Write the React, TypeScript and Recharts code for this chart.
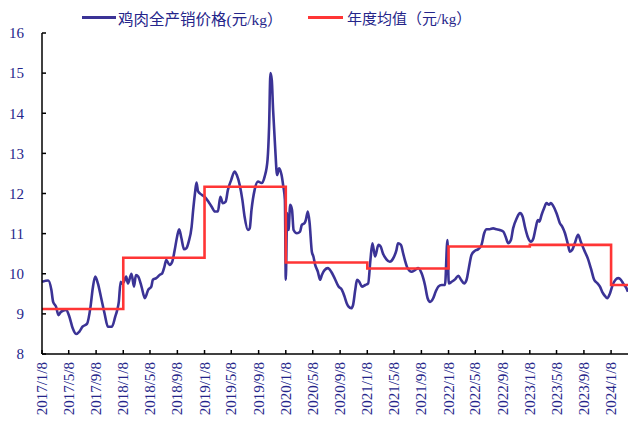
import React from "react";
import { LineChart, Line, XAxis, YAxis } from "recharts";

// weekly-ish readings of the price line
const dates = [
  "2017/1/8", "2017/2/5", "2017/2/19", "2017/2/27", "2017/3/12", "2017/3/23", "2017/4/3", "2017/4/26",
  "2017/5/11", "2017/5/26", "2017/6/10", "2017/6/25", "2017/7/9", "2017/7/29", "2017/8/14", "2017/8/24",
  "2017/9/4", "2017/9/16", "2017/10/1", "2017/10/16", "2017/10/31", "2017/11/18", "2017/12/3", "2017/12/12",
  "2017/12/19", "2017/12/27", "2018/1/2", "2018/1/11", "2018/1/21", "2018/1/29", "2018/2/14", "2018/2/25",
  "2018/3/6", "2018/3/16", "2018/3/31", "2018/4/15", "2018/4/30", "2018/5/14", "2018/5/21", "2018/6/5",
  "2018/6/20", "2018/7/2", "2018/7/12", "2018/7/20", "2018/8/4", "2018/8/16", "2018/8/27", "2018/9/7",
  "2018/9/16", "2018/9/26", "2018/10/8", "2018/10/19", "2018/10/29", "2018/11/11", "2018/11/18", "2018/11/26",
  "2018/12/3", "2018/12/10", "2018/12/26", "2019/1/10", "2019/1/25", "2019/2/9", "2019/2/24", "2019/3/9",
  "2019/3/20", "2019/3/31", "2019/4/13", "2019/4/23", "2019/5/8", "2019/5/23", "2019/6/2", "2019/6/15",
  "2019/6/27", "2019/7/7", "2019/7/22", "2019/7/30", "2019/8/7", "2019/8/21", "2019/9/5", "2019/9/21",
  "2019/10/5", "2019/10/18", "2019/10/25", "2019/10/31", "2019/11/6", "2019/11/12", "2019/11/21", "2019/11/30",
  "2019/12/9", "2019/12/20", "2019/12/27", "2020/1/4", "2020/1/8", "2020/1/14", "2020/1/20", "2020/1/28",
  "2020/2/5", "2020/2/12", "2020/2/27", "2020/3/12", "2020/3/20", "2020/4/1", "2020/4/7", "2020/4/16",
  "2020/4/24", "2020/5/4", "2020/5/11", "2020/5/19", "2020/5/31", "2020/6/10", "2020/6/18", "2020/6/30",
  "2020/7/15", "2020/7/30", "2020/8/14", "2020/9/1", "2020/9/16", "2020/9/28", "2020/10/8", "2020/10/16",
  "2020/10/28", "2020/11/5", "2020/11/15", "2020/11/23", "2020/12/3", "2020/12/15", "2020/12/30", "2021/1/12",
  "2021/1/22", "2021/1/31", "2021/2/12", "2021/2/27", "2021/3/9", "2021/3/19", "2021/4/4", "2021/4/19",
  "2021/5/4", "2021/5/19", "2021/5/26", "2021/6/8", "2021/6/18", "2021/6/26", "2021/7/8", "2021/7/26",
  "2021/8/10", "2021/8/25", "2021/9/9", "2021/9/24", "2021/10/6", "2021/10/17", "2021/10/31", "2021/11/11",
  "2021/11/23", "2021/12/8", "2021/12/23", "2022/1/3", "2022/1/9", "2022/1/22", "2022/2/6", "2022/2/21",
  "2022/3/5", "2022/3/19", "2022/3/30", "2022/4/9", "2022/4/21", "2022/5/6", "2022/5/21", "2022/6/5",
  "2022/6/17", "2022/6/28", "2022/7/12", "2022/7/27", "2022/8/12", "2022/8/26", "2022/9/11", "2022/9/21",
  "2022/10/3", "2022/10/15", "2022/10/25", "2022/11/10", "2022/11/25", "2022/12/7", "2022/12/17", "2022/12/29",
  "2023/1/13", "2023/1/24", "2023/2/3", "2023/2/13", "2023/2/20", "2023/3/2", "2023/3/13", "2023/3/24",
  "2023/4/4", "2023/4/13", "2023/4/23", "2023/5/8", "2023/5/23", "2023/6/3", "2023/6/15", "2023/6/27",
  "2023/7/7", "2023/7/17", "2023/7/29", "2023/8/13", "2023/8/25", "2023/9/9", "2023/9/25", "2023/10/9",
  "2023/10/24", "2023/11/8", "2023/11/19", "2023/11/29", "2023/12/11", "2023/12/22", "2024/1/3", "2024/1/15",
  "2024/1/28", "2024/2/9", "2024/2/21", "2024/3/2", "2024/3/17", "2024/3/24",
];

const prices = [
  9.8, 9.83, 9.6, 9.3, 9.18, 8.97, 9.05, 9.1,
  8.93, 8.64, 8.5, 8.56, 8.68, 8.75, 9.18, 9.64,
  9.93, 9.76, 9.39, 9.01, 8.68, 8.68, 8.93, 9.1,
  9.3, 9.8, 9.75, 9.8, 9.93, 9.76, 10.0, 9.68,
  9.97, 9.93, 9.68, 9.39, 9.6, 9.68, 9.85, 9.89,
  9.97, 10.01, 10.18, 10.34, 10.22, 10.3, 10.59, 10.93,
  11.11, 10.89, 10.61, 10.64, 10.8, 11.17, 11.59, 12.0,
  12.27, 12.05, 11.97, 11.91, 11.8, 11.67, 11.55, 11.55,
  11.92, 11.76, 11.8, 12.09, 12.34, 12.55, 12.46, 12.21,
  11.84, 11.42, 11.09, 11.13, 11.59, 12.09, 12.3, 12.26,
  12.42, 12.84, 13.67, 15.0, 14.83, 14.08, 13.17, 12.46,
  12.63, 12.46, 12.21, 11.84, 9.85, 11.51, 11.09, 11.72,
  11.59, 11.09, 11.01, 11.05, 11.22, 11.26, 11.34, 11.55,
  11.26, 10.55, 10.43, 10.22, 10.05, 9.85, 9.97, 10.09,
  10.14, 10.05, 9.89, 9.68, 9.6, 9.43, 9.26, 9.18,
  9.14, 9.22, 9.6, 9.85, 9.8, 9.68, 9.72, 9.76,
  10.34, 10.76, 10.43, 10.72, 10.68, 10.51, 10.36, 10.3,
  10.38, 10.59, 10.76, 10.72, 10.51, 10.34, 10.14, 10.05,
  10.09, 10.14, 10.01, 9.72, 9.39, 9.3, 9.39, 9.55,
  9.68, 9.72, 9.72, 10.84, 9.76, 9.8, 9.86, 9.95,
  9.85, 9.76, 9.85, 10.14, 10.47, 10.57, 10.61, 10.72,
  11.01, 11.11, 11.11, 11.13, 11.11, 11.09, 11.05, 10.93,
  10.76, 10.84, 11.13, 11.38, 11.51, 11.42, 11.17, 10.93,
  10.8, 10.88, 11.13, 11.34, 11.3, 11.47, 11.63, 11.76,
  11.72, 11.76, 11.69, 11.51, 11.26, 11.17, 11.01, 10.76,
  10.55, 10.59, 10.76, 10.97, 10.8, 10.59, 10.39, 10.14,
  9.85, 9.76, 9.68, 9.55, 9.45, 9.39, 9.51, 9.72,
  9.85, 9.89, 9.85, 9.76, 9.64, 9.55,
];

// yearly averages, each holds from its start date to the next
const avgStarts = ["2017/1/8", "2018/1/8", "2019/1/8", "2020/1/8", "2021/1/8", "2022/1/8", "2023/1/8", "2024/1/8", "2024/3/24"];
const avgValues = [9.12, 10.4, 12.17, 10.28, 10.13, 10.68, 10.72, 9.72, 9.72];

const tickLabels = [
  "2017/1/8", "2017/5/8", "2017/9/8", "2018/1/8", "2018/5/8", "2018/9/8", "2019/1/8", "2019/5/8",
  "2019/9/8", "2020/1/8", "2020/5/8", "2020/9/8", "2021/1/8", "2021/5/8", "2021/9/8", "2022/1/8",
  "2022/5/8", "2022/9/8", "2023/1/8", "2023/5/8", "2023/9/8", "2024/1/8",
];
const yTicks = [8, 9, 10, 11, 12, 13, 14, 15, 16];

const toTime = (s: string) => {
  const [y, m, d] = s.split("/").map(Number);
  return Date.UTC(y, m - 1, d);
};

const priceData = dates.map((d, i) => ({ t: toTime(d), price: prices[i] }));
const avgData = avgStarts.map((d, i) => ({ t: toTime(d), avg: avgValues[i] }));
const tickTimes = tickLabels.map(toTime);
const labelByTime = new Map(tickTimes.map((t, i) => [t, tickLabels[i]]));

const BLUE = "#3b3396";
const RED = "#ff3535";
const NAVY = "#25258a";
const FONT = "'Liberation Serif', 'Noto Sans CJK SC', serif";

const XTick = ({ x, y, payload }: any) => (
  <text
    transform={`translate(${x + 5},${y}) rotate(-90)`}
    textAnchor="end"
    fill={NAVY}
    fontSize={15}
    fontFamily={FONT}
  >
    {labelByTime.get(payload.value)}
  </text>
);

const LegendBox = () => (
  <div style={{ position: "absolute", left: 0, top: 7, width: 631, height: 24, fontFamily: FONT, fontSize: 15.5, color: NAVY }}>
    <div style={{ position: "absolute", left: 82, top: 9, width: 34, height: 3, background: BLUE }} />
    <span style={{ position: "absolute", left: 118, top: 0, whiteSpace: "nowrap" }}>鸡肉全产销价格(元/kg）</span>
    <div style={{ position: "absolute", left: 308, top: 9, width: 35, height: 3, background: RED }} />
    <span style={{ position: "absolute", left: 347, top: 0, whiteSpace: "nowrap", fontSize: 15 }}>年度均值（元/kg）</span>
  </div>
);

export default function App() {
  return (
    <div style={{ position: "absolute", left: 0, top: 0, width: 631, height: 423, background: "#fff" }}>
      <LineChart width={631} height={423} margin={{ top: 33, right: 3, left: 0, bottom: 0 }}>
        <XAxis
          type="number"
          dataKey="t"
          domain={[toTime("2017/1/8"), toTime("2024/3/24")]}
          ticks={tickTimes}
          interval={0}
          height={69}
          tickSize={-4}
          tickMargin={12}
          tick={<XTick />}
          axisLine={{ stroke: "#000", strokeWidth: 1.5 }}
          tickLine={{ stroke: "#000", strokeWidth: 1.5 }}
          allowDataOverflow
        />
        <YAxis
          type="number"
          domain={[8, 16]}
          ticks={yTicks}
          interval={0}
          width={42}
          tickSize={-4}
          tickMargin={22}
          tick={{ fill: NAVY, fontSize: 15, fontFamily: FONT }}
          axisLine={{ stroke: "#000", strokeWidth: 1.5 }}
          tickLine={{ stroke: "#000", strokeWidth: 1.5 }}
        />
        <Line
          data={priceData}
          dataKey="price"
          type="monotone"
          stroke={BLUE}
          strokeWidth={2.6}
          dot={false}
          isAnimationActive={false}
        />
        <Line
          data={avgData}
          dataKey="avg"
          type="stepAfter"
          stroke={RED}
          strokeWidth={2.6}
          dot={false}
          isAnimationActive={false}
        />
      </LineChart>
      <LegendBox />
    </div>
  );
}
